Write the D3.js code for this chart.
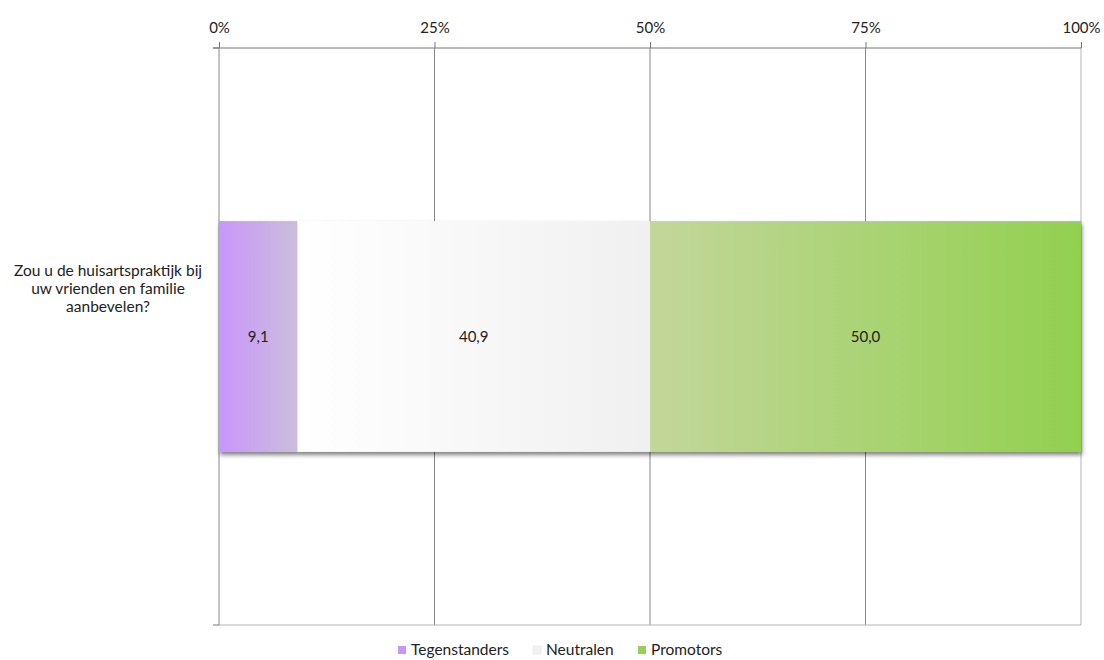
<!DOCTYPE html>
<html>
<head>
<meta charset="utf-8">
<script src="https://cdn.jsdelivr.net/npm/d3@7"></script>
<style>
  body { margin: 0; background: #fff; }
  text { font-family: Lato, "Open Sans", sans-serif; fill: #222; }
</style>
</head>
<body>
<svg id="chart" width="1104" height="660"></svg>
<script>
// data
var categories = ["Zou u de huisartspraktijk bij uw vrienden en familie aanbevelen?"];
var labelLines = ["Zou u de huisartspraktijk bij", "uw vrienden en familie", "aanbevelen?"];
var seriesNames = ["Tegenstanders", "Neutralen", "Promotors"];
var tegenstanders = [9.1];
var neutralen = [40.9];
var promotors = [50.0];
var tickValues = [0, 25, 50, 75, 100];

var colorsFrom = ["#c995fb", "#ffffff", "#c3d69b"];
var colorsTo = ["#cabedb", "#f0f0f0", "#92d050"];
var legendColors = ["#c896f8", "#f2f2f2", "#97d055"];

var svg = d3.select("#chart"),
    margin = {top: 48, right: 23, bottom: 35, left: 219},
    width = 1104 - margin.left - margin.right,
    height = 660 - margin.top - margin.bottom,
    g = svg.append("g").attr("transform", "translate(" + margin.left + "," + margin.top + ")");

var x = d3.scaleLinear().domain([0, 100]).range([0, width]);
var y = d3.scaleBand().domain(categories).range([0, height]).paddingInner(0.6).paddingOuter(0.3);

var defs = svg.append("defs");
seriesNames.forEach(function(s, i) {
  var grad = defs.append("linearGradient").attr("id", "grad" + i)
    .attr("x1", "0%").attr("x2", "100%").attr("y1", "0%").attr("y2", "0%");
  grad.append("stop").attr("offset", "0%").attr("stop-color", colorsFrom[i]);
  grad.append("stop").attr("offset", "100%").attr("stop-color", colorsTo[i]);
});
var filt = defs.append("filter").attr("id", "shadow")
  .attr("x", "-5%").attr("y", "-5%").attr("width", "110%").attr("height", "115%");
filt.append("feDropShadow").attr("dx", 1).attr("dy", 3).attr("stdDeviation", 2)
  .attr("flood-color", "#000").attr("flood-opacity", 0.5);

// gridlines
g.selectAll(".grid").data(tickValues.slice(1, 4)).enter().append("line")
  .attr("x1", function(d) { return x(d); }).attr("x2", function(d) { return x(d); })
  .attr("y1", 0).attr("y2", height)
  .attr("stroke", "#868686").attr("stroke-width", 1);

// right and bottom border
g.append("line").attr("x1", x(100)).attr("x2", x(100)).attr("y1", 0).attr("y2", height)
  .attr("stroke", "#b4b4b4");
g.append("line").attr("x1", 0).attr("x2", x(100)).attr("y1", height).attr("y2", height)
  .attr("stroke", "#b4b4b4");

// top axis
var xAxis = g.append("g")
  .call(d3.axisTop(x).tickValues(tickValues).tickSize(6).tickPadding(9)
    .tickFormat(function(d) { return d + "%"; }));
xAxis.select(".domain").attr("stroke", "#777").attr("d", "M-6,0H" + width);
xAxis.selectAll(".tick line").attr("stroke", "#777");
xAxis.selectAll(".tick text").attr("fill", "#222")
  .style("font-size", "15px").style("font-family", "Lato, sans-serif");

// left axis
g.append("line").attr("x1", 0).attr("x2", 0).attr("y1", 0).attr("y2", height)
  .attr("stroke", "#888");
g.selectAll(".ltick").data([0, height]).enter().append("line")
  .attr("x1", -6).attr("x2", 0).attr("y1", function(d) { return d; }).attr("y2", function(d) { return d; })
  .attr("stroke", "#777");

// stacked bars
var rows = categories.map(function(c, i) {
  return {cat: c, values: [tegenstanders[i], neutralen[i], promotors[i]]};
});
rows.forEach(function(r) {
  var acc = 0;
  var segs = r.values.map(function(v, i) {
    var s = {x0: acc, x1: acc + v, v: v, i: i};
    acc += v;
    return s;
  });
  var bg = g.append("g").attr("filter", "url(#shadow)");
  bg.selectAll("rect").data(segs).enter().append("rect")
    .attr("x", function(d) { return x(d.x0); })
    .attr("width", function(d) { return x(d.x1) - x(d.x0); })
    .attr("y", y(r.cat)).attr("height", y.bandwidth())
    .attr("fill", function(d) { return "url(#grad" + d.i + ")"; });
  g.selectAll(".vlabel").data(segs).enter().append("text")
    .attr("x", function(d) { return (x(d.x0) + x(d.x1)) / 2; })
    .attr("y", y(r.cat) + y.bandwidth() / 2)
    .attr("dy", "0.35em").attr("text-anchor", "middle").attr("font-size", 15)
    .text(function(d) { return d.v.toFixed(1).replace(".", ","); });
});

// category label
var cy = y(categories[0]) + y.bandwidth() / 2;
svg.append("text").attr("text-anchor", "middle").attr("font-size", 15.5)
  .selectAll("tspan").data(labelLines).enter().append("tspan")
  .attr("x", 108)
  .attr("y", function(d, i) { return cy + (i - 1) * 18; })
  .attr("dy", "0.35em")
  .text(function(d) { return d; });

// legend
var legendX = [398, 533, 638];
var leg = svg.append("g").attr("transform", "translate(0,650)");
seriesNames.forEach(function(s, i) {
  leg.append("rect").attr("x", legendX[i]).attr("y", -4).attr("width", 8).attr("height", 8)
    .attr("fill", legendColors[i]).attr("stroke", i === 1 ? "#e0e0e0" : "none").attr("stroke-width", 0.5);
  leg.append("text").attr("x", legendX[i] + 13).attr("y", 0).attr("dy", "0.35em")
    .attr("font-size", 15.5).text(s);
});
</script>
</body>
</html>
